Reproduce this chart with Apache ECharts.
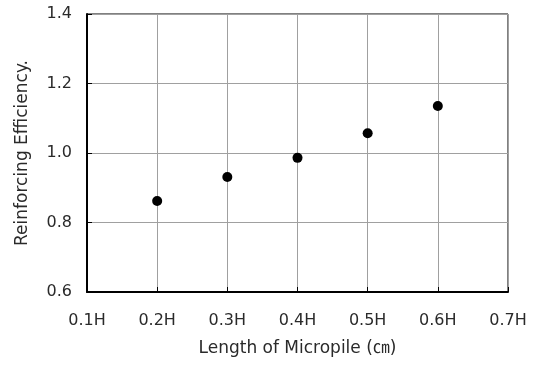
<!DOCTYPE html>
<html>
<head>
<meta charset="utf-8">
<script src="https://cdn.jsdelivr.net/npm/echarts@6/dist/echarts.min.js"></script>
<style>
  html, body {margin: 0; padding: 0; background: #fff;}
  #chart {width: 539px; height: 365px;}
</style>
</head>
<body>
<div id="chart"></div>
<script>
const categories = ['0.1H', '0.2H', '0.3H', '0.4H', '0.5H', '0.6H', '0.7H'];
const efficiency = ['-', 0.862, 0.931, 0.986, 1.057, 1.135, '-'];
const yTicks = {min: 0.6, max: 1.4, interval: 0.2};

const font = "'DejaVu Sans', 'Noto Sans CJK KR', sans-serif";
const chart = echarts.init(document.getElementById('chart'));
chart.setOption({
  animation: false,
  grid: {
    left: 87, right: 31, top: 14, bottom: 73,
    show: true, borderColor: '#000', borderWidth: 1
  },
  xAxis: {
    type: 'category',
    data: categories,
    boundaryGap: false,
    name: 'Length of Micropile (㎝)',
    nameLocation: 'middle',
    nameGap: 48,
    nameTextStyle: {color: '#2a2a2a', fontSize: 17, fontFamily: font},
    axisLine: {lineStyle: {color: '#000', width: 2}},
    axisTick: {inside: true, length: 5, lineStyle: {color: '#000'}},
    axisLabel: {color: '#2a2a2a', fontSize: 16, fontFamily: font, margin: 21},
    splitLine: {show: true, lineStyle: {color: '#a0a0a0', width: 1}}
  },
  yAxis: {
    type: 'value',
    min: yTicks.min,
    max: yTicks.max,
    interval: yTicks.interval,
    name: 'Reinforcing Efficiency.',
    nameLocation: 'middle',
    nameGap: 56,
    nameTextStyle: {color: '#2a2a2a', fontSize: 17, fontFamily: font},
    axisLine: {show: true, lineStyle: {color: '#000', width: 2}},
    axisTick: {show: true, inside: true, length: 5, lineStyle: {color: '#000'}},
    axisLabel: {
      color: '#2a2a2a', fontSize: 16, fontFamily: font, margin: 15,
      formatter: v => v.toFixed(1)
    },
    splitLine: {show: true, lineStyle: {color: '#a0a0a0', width: 1}}
  },
  series: [{
    type: 'scatter',
    data: efficiency,
    symbol: 'circle',
    symbolSize: 10,
    itemStyle: {color: '#000', opacity: 1}
  }]
});
</script>
</body>
</html>
